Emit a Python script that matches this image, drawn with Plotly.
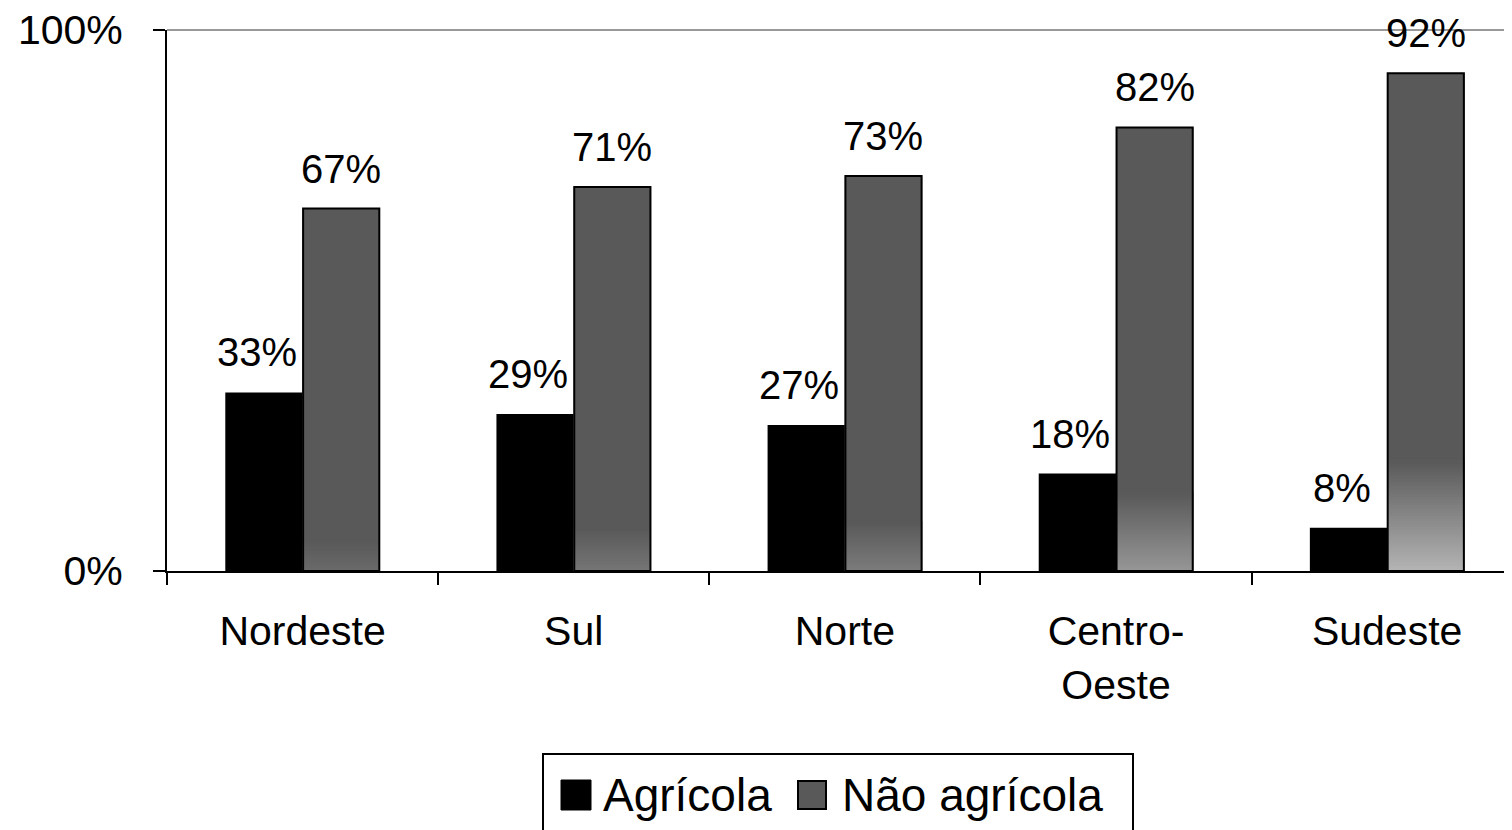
import plotly.graph_objects as go

# ---- data ----
regions = ["Nordeste", "Sul", "Norte", "Centro-Oeste", "Sudeste"]
region_labels = ["Nordeste", "Sul", "Norte", "Centro-<br>Oeste", "Sudeste"]
agricola = [0.33, 0.29, 0.27, 0.18, 0.08]
nao_agricola = [0.67, 0.71, 0.73, 0.82, 0.92]
series_names = ["Agrícola", "Não agrícola"]

# ---- styling constants ----
W, H = 1512, 830
OFF = 8  # page body margin
ML, MR, MT, MB = 159, 0, 22, 267
PW, PH = W - ML - MR, H - MT - MB
FONT = "Liberation Sans, Arial, sans-serif"
BW = 0.285
DARK = 89  # gray level of non-agricultural bars


def px_x(px):
    return (px - OFF - ML) / PW


def px_y(py):
    return (H - MB - (py - OFF)) / PH


fig = go.Figure()

# Agricultural bars (black)
fig.add_trace(go.Bar(
    x=regions, y=agricola, name=series_names[0],
    marker=dict(color="black", line=dict(width=0)),
    width=BW, offset=-BW, showlegend=False,
))

# Non agricultural bars (gray base fill)
fig.add_trace(go.Bar(
    x=regions, y=nao_agricola, name=series_names[1],
    marker=dict(color=f"rgb({DARK},{DARK},{DARK})", line=dict(width=0)),
    width=BW, offset=0, showlegend=False,
))

# Gradient near the bottom of the gray bars (style overlay)
NSEG = 40
grad_h = [(30 + (v - 0.67) / 0.25 * 80) / PH for v in nao_agricola]
grad_l = [106 + (v - 0.67) * 296 for v in nao_agricola]
for k in range(NSEG):
    bases, heights, colors = [], [], []
    for h, lb in zip(grad_h, grad_l):
        seg = h / NSEG
        bases.append(k * seg)
        heights.append(seg * 1.8)
        t = (k + 0.5) / NSEG
        c = int(round(lb + (DARK - lb) * t))
        colors.append(f"rgb({c},{c},{c})")
    fig.add_trace(go.Bar(
        x=regions, y=heights, base=bases,
        marker=dict(color=colors, line=dict(width=0)),
        width=BW, offset=0, showlegend=False, hoverinfo="skip",
    ))

# Outline of gray bars
fig.add_trace(go.Bar(
    x=regions, y=nao_agricola,
    marker=dict(color="rgba(0,0,0,0)", line=dict(color="black", width=2)),
    width=BW - 0.004, offset=0.002, showlegend=False, hoverinfo="skip",
))

# Value labels
for i, (a, n) in enumerate(zip(agricola, nao_agricola)):
    fig.add_annotation(x=i - BW / 2, y=a, text=f"{a:.0%}", showarrow=False,
                       yanchor="middle", yshift=40, xshift=-7,
                       font=dict(family=FONT, size=40, color="black"))
    fig.add_annotation(x=i + BW / 2, y=n, text=f"{n:.0%}", showarrow=False,
                       yanchor="middle", yshift=40,
                       font=dict(family=FONT, size=40, color="black"))

# Top (100%) gridline
fig.add_shape(type="line", xref="paper", yref="paper", x0=0, x1=1, y0=1, y1=1,
              line=dict(color="#999999", width=2), layer="below")

# Legend (box, swatches, labels)
fig.add_shape(type="rect", xref="paper", yref="paper",
              x0=px_x(543), x1=px_x(1133), y0=px_y(850), y1=px_y(754),
              line=dict(color="black", width=2), fillcolor="white", layer="above")
fig.add_shape(type="rect", xref="paper", yref="paper",
              x0=px_x(561), x1=px_x(591), y0=px_y(810), y1=px_y(780),
              line=dict(color="black", width=1), fillcolor="black", layer="above")
fig.add_shape(type="rect", xref="paper", yref="paper",
              x0=px_x(798), x1=px_x(826), y0=px_y(809), y1=px_y(781),
              line=dict(color="black", width=2),
              fillcolor=f"rgb({DARK},{DARK},{DARK})", layer="above")
fig.add_annotation(xref="paper", yref="paper", x=px_x(601), y=px_y(795),
                   xanchor="left", yanchor="middle", text=series_names[0],
                   showarrow=False, font=dict(family=FONT, size=46, color="black"))
fig.add_annotation(xref="paper", yref="paper", x=px_x(840), y=px_y(795),
                   xanchor="left", yanchor="middle", text=series_names[1],
                   showarrow=False, font=dict(family=FONT, size=46, color="black"))

fig.update_layout(
    width=W, height=H, autosize=False,
    margin=dict(l=ML, r=MR, t=MT, b=MB, pad=0),
    paper_bgcolor="white", plot_bgcolor="white",
    barmode="overlay", showlegend=False,
    font=dict(family=FONT, color="black"),
)
fig.update_xaxes(
    type="category", range=[-0.5, 4.49],
    tickvals=regions, ticktext=region_labels,
    showline=True, linecolor="black", linewidth=2,
    ticks="outside", ticklen=12, tickwidth=2, tickcolor="black",
    tickson="boundaries", showgrid=False,
    tickfont=dict(family=FONT, size=41, color="black"),
    ticklabelstandoff=23,
)
fig.update_yaxes(
    range=[0, 1], tickvals=[0, 1], tickformat=".0%",
    showline=True, linecolor="black", linewidth=2,
    ticks="outside", ticklen=12, tickwidth=2, tickcolor="black",
    showgrid=False, zeroline=False,
    tickfont=dict(family=FONT, size=41, color="black"),
    ticklabelstandoff=22, ticklabeloverflow="allow",
)

fig.write_html("out.html")
